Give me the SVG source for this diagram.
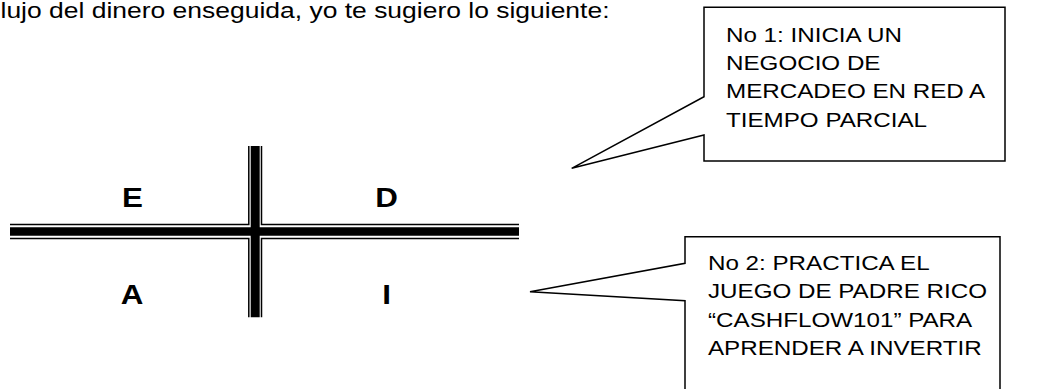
<svg xmlns="http://www.w3.org/2000/svg" width="1060" height="389" viewBox="0 0 1060 389">
<style>
.t{font-family:"Liberation Sans",Arial,sans-serif;font-size:20.5px;fill:#000}
.q{font-family:"Liberation Sans",Arial,sans-serif;font-size:28px;font-weight:bold;fill:#000;text-anchor:middle}
.thin{stroke:#000;stroke-width:1.5;fill:none}
.thick{stroke:#000;fill:none}
.call{fill:#fff;stroke:#000;stroke-width:1.5}
</style>
<rect width="1060" height="389" fill="#fff"/>
<text class="t" x="0.5" y="17.5" style="font-size:21.5px" textLength="609" lengthAdjust="spacingAndGlyphs">lujo del dinero enseguida, yo te sugiero lo siguiente:</text>
<g id="grid">
<line class="thick" x1="10" y1="231.5" x2="519" y2="231.5" stroke-width="8.4"/>
<line class="thick" x1="255.2" y1="146" x2="255.2" y2="317.3" stroke-width="9"/>
<polyline class="thin" points="10,224.5 248.8,224.5 248.8,146"/>
<polyline class="thin" points="519,224.5 261.5,224.5 261.5,146"/>
<polyline class="thin" points="10,238.5 248.8,238.5 248.8,317.3"/>
<polyline class="thin" points="519,238.5 261.5,238.5 261.5,317.3"/>
</g>
<g id="quadrants">
<text class="q" transform="translate(132.5,206.7) scale(1.12,1)">E</text>
<text class="q" transform="translate(386.5,206.7) scale(1.12,1)">D</text>
<text class="q" transform="translate(132,304) scale(1.12,1)">A</text>
<text class="q" transform="translate(386.5,304) scale(1.12,1)">I</text>
</g>
<g id="callout1">
<path class="call" d="M704,7.3 H1005 V161 H704 V135 L571.7,168.3 L704,96.7 Z"/>
<g transform="translate(726,0) scale(1.18,1)">
<text class="t" x="0" y="41.7">No 1: INICIA UN</text>
<text class="t" x="0" y="70">NEGOCIO DE</text>
<text class="t" x="0" y="98.3">MERCADEO EN RED A</text>
<text class="t" x="0" y="126.7">TIEMPO PARCIAL</text>
</g>
</g>
<g id="callout2">
<path class="call" d="M685,236.7 H1000 V395 H685 V300.7 L530,291.7 L685,263.3 Z"/>
<g transform="translate(708,0) scale(1.18,1)">
<text class="t" x="0" y="270">No 2: PRACTICA EL</text>
<text class="t" x="0" y="298.3">JUEGO DE PADRE RICO</text>
<text class="t" x="0" y="326.7">“CASHFLOW101” PARA</text>
<text class="t" x="0" y="355">APRENDER A INVERTIR</text>
</g>
</g>
</svg>
